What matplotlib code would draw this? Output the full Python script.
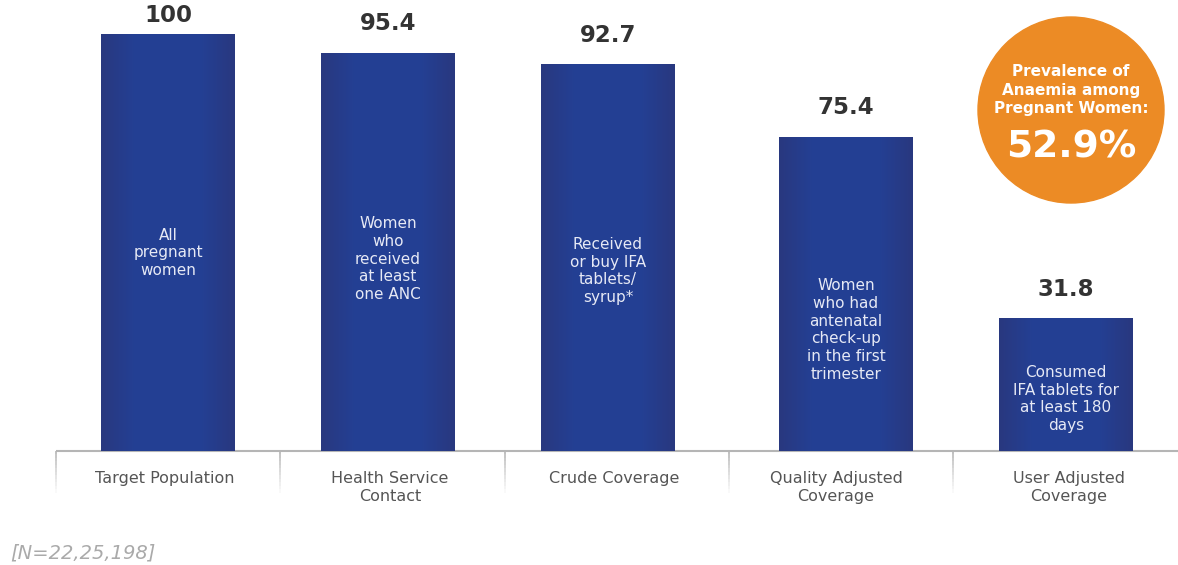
import numpy as np
import matplotlib
matplotlib.use("Agg")
import matplotlib.pyplot as plt
from matplotlib.patches import Ellipse

# coverage cascade for IFA supplementation among pregnant women
stages = ["Target Population", "Health Service\nContact", "Crude Coverage",
          "Quality Adjusted\nCoverage", "User Adjusted\nCoverage"]
values = [100, 95.4, 92.7, 75.4, 31.8]
bar_notes = ["All\npregnant\nwomen",
             "Women\nwho\nreceived\nat least\none ANC",
             "Received\nor buy IFA\ntablets/\nsyrup*",
             "Women\nwho had\nantenatal\ncheck-up\nin the first\ntrimester",
             "Consumed\nIFA tablets for\nat least 180\ndays"]
anaemia_pct = 52.9
sample_note = "[N=22,25,198]"

# layout (x in pixels across the figure, y in percent)
W, H = 1178, 565
base_px = 451
px_per_unit = 4.17
bar_x = [168, 388, 608, 846, 1066]
bar_w = 134
note_y = [47.5, 46.0, 43.2, 29.0, 12.5]
cell_edges = [56, 280, 505, 729, 953, 1178]
stage_x = [165, 390, 614, 836, 1069]
label_cap = (base_px - 16) / px_per_unit

fig = plt.figure(figsize=(W / 100, H / 100), dpi=100)
ax = fig.add_axes([0, 0, 1, 1])
ax.set_xlim(0, W)
ax.set_ylim(-(H - base_px) / px_per_unit, base_px / px_per_unit)
ax.axis("off")

# horizontal gradient for the bars: darker at the edges
t = np.linspace(0, 1, 64)
edge = np.array([0.16, 0.22, 0.50])
mid = np.array([0.14, 0.25, 0.58])
w = np.clip(np.minimum(t, 1 - t) * 4, 0, 1)
grad = (edge[None, :] * (1 - w[:, None]) + mid[None, :] * w[:, None])[None, :, :]

for x, v, note, ny in zip(bar_x, values, bar_notes, note_y):
    bar = ax.bar(x, v, width=bar_w, color="#24408f", zorder=2)[0]
    im = ax.imshow(grad, extent=[x - bar_w / 2, x + bar_w / 2, 0, v],
                   aspect="auto", zorder=3)
    im.set_clip_path(bar)
    ax.text(x, min(v + 7.0, label_cap), f"{v:g}", ha="center", va="center",
            fontsize=16.5, fontweight="bold", color="#333333", zorder=4)
    ax.text(x, ny, note, ha="center", va="center", fontsize=11,
            color="#e6e9f5", linespacing=1.22, zorder=4)

# category strip below the bars
ax.plot([cell_edges[0], cell_edges[-1]], [0, 0], color="#b5b5b5", lw=1.5,
        zorder=1, solid_capstyle="butt")
for e in cell_edges[:-1]:
    segs = 12
    ys = np.linspace(0, -10, segs + 1)
    for k in range(segs):
        a = 1 - k / segs
        ax.plot([e, e], [ys[k], ys[k + 1]], color="#b5b5b5", alpha=a, lw=1.2,
                solid_capstyle="butt")
for cx, lab in zip(stage_x, stages):
    ax.text(cx, -4.9, lab, ha="center", va="top", fontsize=11.5,
            color="#555555", linespacing=1.25)

# anaemia prevalence badge
ry = 93 / px_per_unit
cy = (base_px - 110) / px_per_unit
ax.add_patch(Ellipse((1071, cy), 186, 2 * ry, color="#ec8b25", zorder=5))
ax.text(1071, (base_px - 90) / px_per_unit,
        "Prevalence of\nAnaemia among\nPregnant Women:",
        ha="center", va="center", fontsize=11, fontweight="bold",
        color="white", linespacing=1.25, zorder=6)
ax.text(1071, (base_px - 148) / px_per_unit, f"{anaemia_pct}%",
        ha="center", va="center", fontsize=27, fontweight="bold",
        color="white", zorder=6)

ax.text(10, -(553 - base_px) / px_per_unit, sample_note, ha="left",
        va="center", fontsize=14, style="italic", color="#aaaaaa")

fig.savefig("out.png", dpi=100)
